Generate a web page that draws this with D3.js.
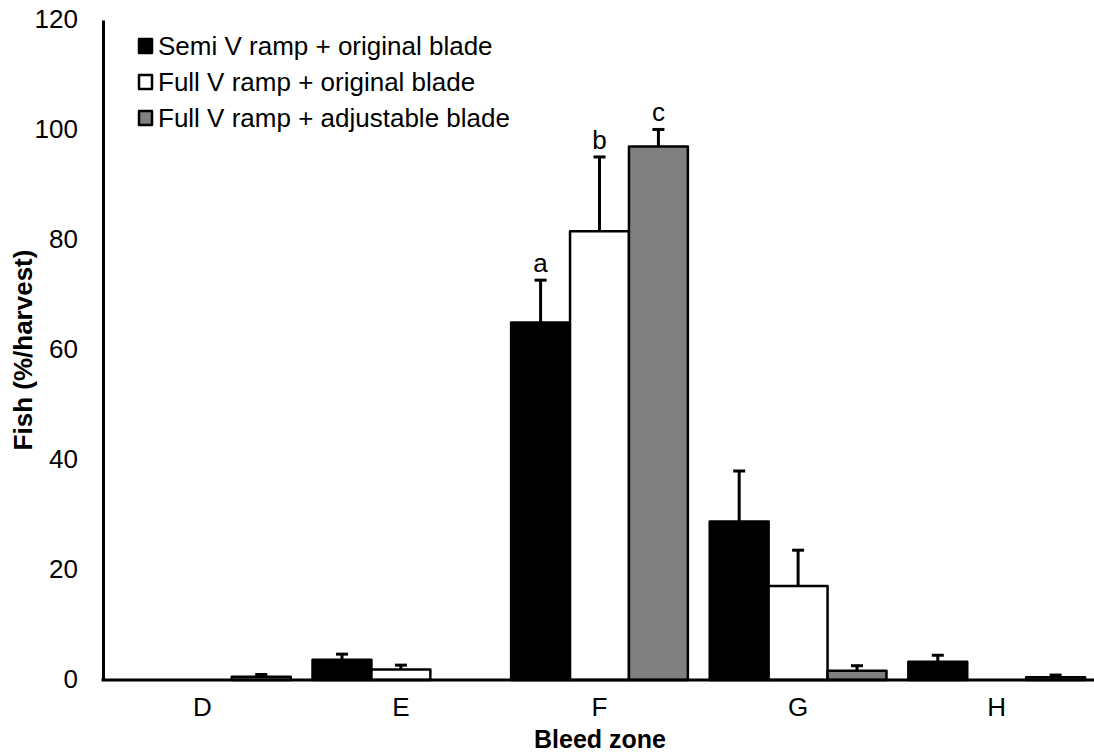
<!DOCTYPE html>
<html>
<head>
<meta charset="utf-8">
<script src="https://cdn.jsdelivr.net/npm/d3@7"></script>
<style>
  body { margin: 0; background: #fff; }
  text { font-family: "Liberation Sans", Arial, sans-serif; fill: #000; }
</style>
</head>
<body>
<svg id="chart" width="1094" height="755"></svg>
<script>
// data
const zones = ["D", "E", "F", "G", "H"];
const seriesNames = ["Semi V ramp + original blade", "Full V ramp + original blade", "Full V ramp + adjustable blade"];
const seriesColors = ["#000000", "#ffffff", "#808080"];
const semiMeans = [0, 3.7, 65, 28.8, 3.3];
const semiErr = [0, 1.0, 7.7, 9.2, 1.2];
const fullMeans = [0, 1.9, 81.6, 17.1, 0];
const fullErr = [0, 0.8, 13.5, 6.5, 0];
const adjMeans = [0.6, 0, 97, 1.7, 0.5];
const adjErr = [0.4, 0, 3.1, 0.9, 0.4];
const sigLetters = [["F", 0, "a"], ["F", 1, "b"], ["F", 2, "c"]];
const yTicks = [0, 20, 40, 60, 80, 100, 120];

const means = [semiMeans, fullMeans, adjMeans];
const errs = [semiErr, fullErr, adjErr];

let svg = d3.select("#chart");

// scales
let x0 = d3.scaleBand()
  .domain(zones)
  .range([103, 1096])
  .paddingInner(0.11)
  .paddingOuter(0.055);
let x1 = d3.scaleBand()
  .domain(d3.range(seriesNames.length))
  .range([0, x0.bandwidth()]);
let y = d3.scaleLinear().domain([0, 120]).range([680, 20]);

// build rows for bars
let rows = [];
for (let s = 0; s < seriesNames.length; s++) {
  for (let i = 0; i < zones.length; i++) {
    rows.push({zone: zones[i], s: s, v: means[s][i], e: errs[s][i]});
  }
}

// y axis
let yAxis = svg.append("g")
  .attr("transform", "translate(103,0)")
  .call(d3.axisLeft(y).tickValues(yTicks).tickSize(0).tickPadding(25));
yAxis.select(".domain").attr("stroke", "#000").attr("stroke-width", 3);
yAxis.selectAll("text").style("font-size", "26px").attr("dy", "0.3em");

// bars
svg.append("g").selectAll("rect")
  .data(rows)
  .enter()
  .append("rect")
  .attr("x", d => x0(d.zone) + x1(d.s))
  .attr("y", d => y(d.v))
  .attr("width", x1.bandwidth())
  .attr("height", d => y(0) - y(d.v))
  .attr("fill", d => seriesColors[d.s])
  .attr("stroke", "#000")
  .attr("stroke-width", 2.5)
  .attr("stroke-linejoin", "round");

// error bars (upper only)
let eb = svg.append("g").selectAll("g")
  .data(rows.filter(d => d.e > 0))
  .enter()
  .append("g")
  .attr("stroke", "#000")
  .attr("stroke-width", 3);
eb.append("line")
  .attr("x1", d => x0(d.zone) + x1(d.s) + x1.bandwidth() / 2)
  .attr("x2", d => x0(d.zone) + x1(d.s) + x1.bandwidth() / 2)
  .attr("y1", d => y(d.v))
  .attr("y2", d => y(d.v + d.e));
eb.append("line")
  .attr("x1", d => x0(d.zone) + x1(d.s) + x1.bandwidth() / 2 - 6)
  .attr("x2", d => x0(d.zone) + x1(d.s) + x1.bandwidth() / 2 + 6)
  .attr("y1", d => y(d.v + d.e))
  .attr("y2", d => y(d.v + d.e));

// x axis
let xAxis = svg.append("g")
  .attr("transform", "translate(0,680)")
  .call(d3.axisBottom(x0).tickSize(0).tickPadding(18));
xAxis.select(".domain").attr("stroke", "#000").attr("stroke-width", 3)
  .attr("d", "M101.5,0H1094");
xAxis.selectAll("text").style("font-size", "26px");

// significance letters
svg.append("g").selectAll("text")
  .data(sigLetters)
  .enter()
  .append("text")
  .attr("x", d => x0(d[0]) + x1(d[1]) + x1.bandwidth() / 2)
  .attr("y", d => {
    let i = zones.indexOf(d[0]);
    return y(means[d[1]][i] + errs[d[1]][i]) - 8;
  })
  .attr("text-anchor", "middle")
  .style("font-size", "26px")
  .text(d => d[2]);

// axis titles
svg.append("text")
  .attr("x", 600)
  .attr("y", 748)
  .attr("text-anchor", "middle")
  .style("font-size", "25px")
  .style("font-weight", "bold")
  .text("Bleed zone");
svg.append("text")
  .attr("transform", "translate(32,350) rotate(-90)")
  .attr("text-anchor", "middle")
  .style("font-size", "26px")
  .style("font-weight", "bold")
  .text("Fish (%/harvest)");

// legend
let legend = svg.append("g").selectAll("g")
  .data(seriesNames)
  .enter()
  .append("g")
  .attr("transform", (d, i) => "translate(139," + (46 + i * 36) + ")");
legend.append("rect")
  .attr("x", 0)
  .attr("y", -7)
  .attr("width", 13)
  .attr("height", 14)
  .attr("fill", (d, i) => seriesColors[i])
  .attr("stroke", "#000")
  .attr("stroke-width", 2.5)
  .attr("stroke-linejoin", "round");
legend.append("text")
  .attr("x", 19)
  .attr("y", 0)
  .attr("dy", "0.35em")
  .style("font-size", "26px")
  .text(d => d);
</script>
</body>
</html>
